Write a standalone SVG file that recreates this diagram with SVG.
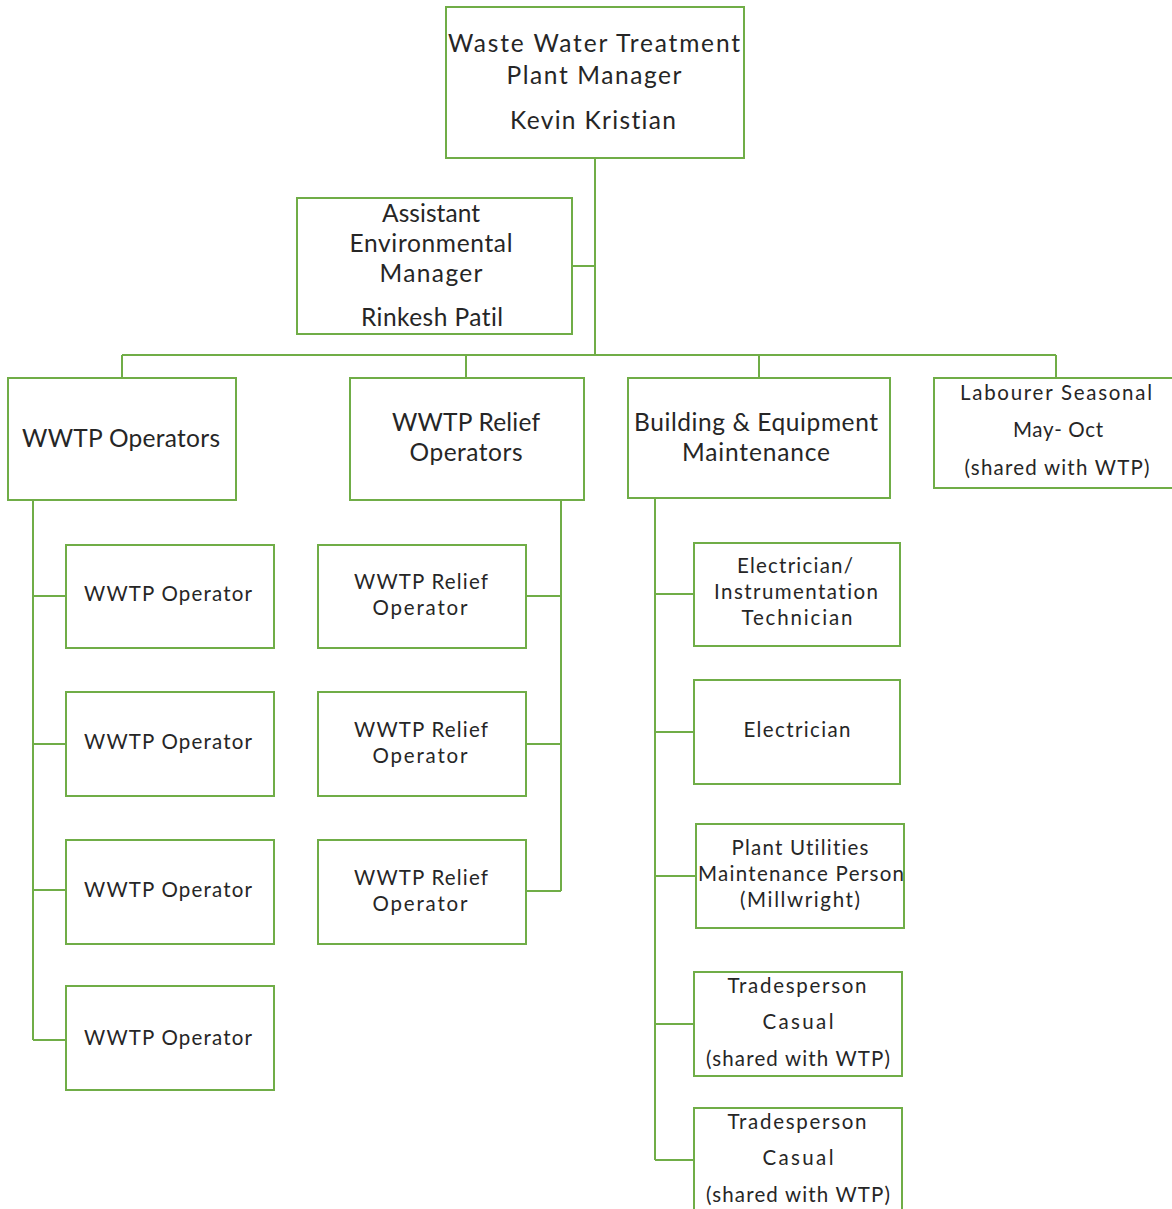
<svg xmlns="http://www.w3.org/2000/svg" width="1172" height="1209" viewBox="0 0 1172 1209">
<style>
.box{fill:#fff;stroke:#70AD47;stroke-width:2}
.ln{fill:none;stroke:#70AD47;stroke-width:2}
text{font-family:Lato,"Open Sans","Liberation Sans",sans-serif;fill:#262626;text-anchor:middle;font-variant-ligatures:none;font-feature-settings:"liga" 0,"clig" 0}
.l{font-size:24.5px}
.s{font-size:20.5px}
</style>
<rect width="1172" height="1209" fill="#fff"/>
<g id="connectors">
<path class="ln" d="M595 158V355M572 266H595M122 355H1056M122 355V378M466 355V378M759 355V378M1056 355V378"/>
<path class="ln" d="M33 500V1040M33 596H66M33 744H66M33 890H66M33 1040H66"/>
<path class="ln" d="M561 500V891M526 596H561M526 744H561M526 891H561"/>
<path class="ln" d="M655 498V1160M655 594H694M655 732H694M655 876H696M655 1024H694M655 1160H694"/>
</g>
<g id="manager"><rect class="box" x="446" y="7" width="298" height="151"/>
<text class="l" x="594" y="52" textLength="292" lengthAdjust="spacing">Waste Water Treatment</text><text class="l" x="594" y="84" textLength="175" lengthAdjust="spacing">Plant Manager</text><text class="l" x="593" y="129" textLength="166" lengthAdjust="spacing">Kevin Kristian</text></g>
<g id="assistant"><rect class="box" x="297" y="198" width="275" height="136"/>
<text class="l" x="431" y="222" textLength="98" lengthAdjust="spacing">Assistant</text><text class="l" x="431" y="252" textLength="163" lengthAdjust="spacing">Environmental</text><text class="l" x="431" y="282" textLength="103" lengthAdjust="spacing">Manager</text><text class="l" x="432" y="326" textLength="142" lengthAdjust="spacing">Rinkesh Patil</text></g>
<g id="operators"><rect class="box" x="8" y="378" width="228" height="122"/>
<text class="l" x="121" y="447" textLength="198" lengthAdjust="spacing">WWTP Operators</text></g>
<g id="relief"><rect class="box" x="350" y="378" width="234" height="122"/>
<text class="l" x="466" y="431" textLength="148" lengthAdjust="spacing">WWTP Relief</text><text class="l" x="466" y="461" textLength="113" lengthAdjust="spacing">Operators</text></g>
<g id="building"><rect class="box" x="628" y="378" width="262" height="120"/>
<text class="l" x="756" y="431" textLength="244" lengthAdjust="spacing">Building &amp; Equipment</text><text class="l" x="756" y="461" textLength="148" lengthAdjust="spacing">Maintenance</text></g>
<g id="labourer"><rect class="box" x="934" y="378" width="240" height="110"/>
<text class="s" x="1056" y="400" textLength="192" lengthAdjust="spacing">Labourer  Seasonal</text><text class="s" x="1058" y="437" textLength="90" lengthAdjust="spacing">May- Oct</text><text class="s" x="1057" y="475" textLength="185" lengthAdjust="spacing">(shared with WTP)</text></g>
<g id="op1"><rect class="box" x="66" y="545" width="208" height="103"/><text class="s" x="168" y="601" textLength="168" lengthAdjust="spacing">WWTP Operator</text></g>
<g id="op2"><rect class="box" x="66" y="692" width="208" height="104"/><text class="s" x="168" y="749" textLength="168" lengthAdjust="spacing">WWTP Operator</text></g>
<g id="op3"><rect class="box" x="66" y="840" width="208" height="104"/><text class="s" x="168" y="897" textLength="168" lengthAdjust="spacing">WWTP Operator</text></g>
<g id="op4"><rect class="box" x="66" y="986" width="208" height="104"/><text class="s" x="168" y="1045" textLength="168" lengthAdjust="spacing">WWTP Operator</text></g>
<g id="rel1"><rect class="box" x="318" y="545" width="208" height="103"/><text class="s" x="421" y="589" textLength="134" lengthAdjust="spacing">WWTP Relief</text><text class="s" x="420" y="615" textLength="95" lengthAdjust="spacing">Operator</text></g>
<g id="rel2"><rect class="box" x="318" y="692" width="208" height="104"/><text class="s" x="421" y="737" textLength="134" lengthAdjust="spacing">WWTP Relief</text><text class="s" x="420" y="763" textLength="95" lengthAdjust="spacing">Operator</text></g>
<g id="rel3"><rect class="box" x="318" y="840" width="208" height="104"/><text class="s" x="421" y="885" textLength="134" lengthAdjust="spacing">WWTP Relief</text><text class="s" x="420" y="911" textLength="95" lengthAdjust="spacing">Operator</text></g>
<g id="elec-inst"><rect class="box" x="694" y="543" width="206" height="103"/><text class="s" x="795" y="573" textLength="116" lengthAdjust="spacing">Electrician/</text><text class="s" x="796" y="599" textLength="164" lengthAdjust="spacing">Instrumentation</text><text class="s" x="797" y="625" textLength="111" lengthAdjust="spacing">Technician</text></g>
<g id="elec"><rect class="box" x="694" y="680" width="206" height="104"/><text class="s" x="797" y="737" textLength="107" lengthAdjust="spacing">Electrician</text></g>
<g id="millwright"><rect class="box" x="696" y="824" width="208" height="104"/><text class="s" x="800" y="855" textLength="137" lengthAdjust="spacing">Plant Utilities</text><text class="s" x="801" y="881" textLength="206" lengthAdjust="spacing">Maintenance Person</text><text class="s" x="800" y="907" textLength="120" lengthAdjust="spacing">(Millwright)</text></g>
<g id="trades1"><rect class="box" x="694" y="972" width="208" height="104"/><text class="s" x="797" y="993" textLength="139" lengthAdjust="spacing">Tradesperson</text><text class="s" x="798" y="1029" textLength="71" lengthAdjust="spacing">Casual</text><text class="s" x="798" y="1066" textLength="184" lengthAdjust="spacing">(shared with WTP)</text></g>
<g id="trades2"><rect class="box" x="694" y="1108" width="208" height="104"/><text class="s" x="797" y="1129" textLength="139" lengthAdjust="spacing">Tradesperson</text><text class="s" x="798" y="1165" textLength="71" lengthAdjust="spacing">Casual</text><text class="s" x="798" y="1202" textLength="184" lengthAdjust="spacing">(shared with WTP)</text></g>
</svg>
